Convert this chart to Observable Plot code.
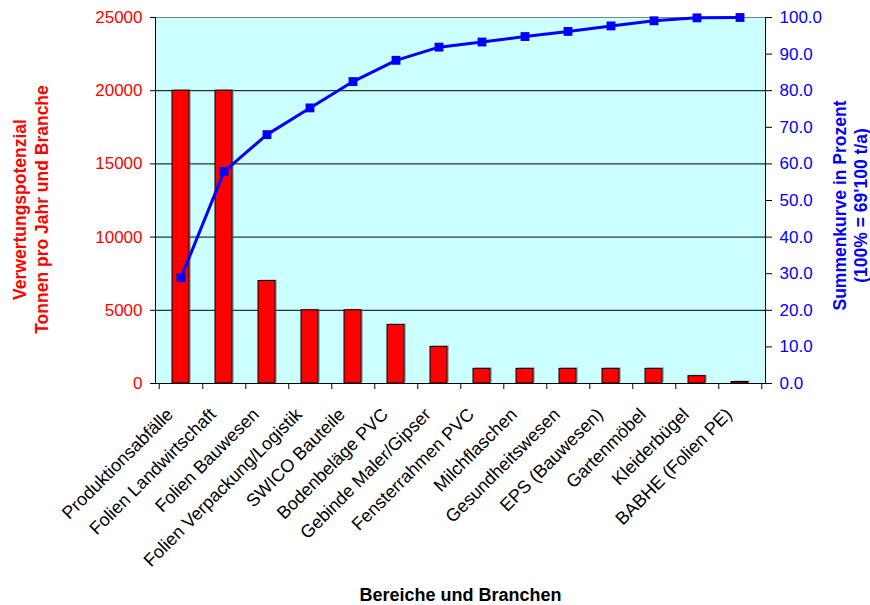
<!DOCTYPE html>
<html><head><meta charset="utf-8">
<script src="https://cdn.jsdelivr.net/npm/d3@7"></script>
<script src="https://cdn.jsdelivr.net/npm/@observablehq/plot@0.6"></script>
<style>body{margin:0;background:#fff}</style>
</head><body><div id="chart"></div>
<script>
const categories = ["Produktionsabfälle", "Folien Landwirtschaft", "Folien Bauwesen", "Folien Verpackung/Logistik", "SWICO Bauteile", "Bodenbeläge PVC", "Gebinde Maler/Gipser", "Fensterrahmen PVC", "Milchflaschen", "Gesundheitswesen", "EPS (Bauwesen)", "Gartenmöbel", "Kleiderbügel", "BABHE (Folien PE)"];
const tonnen = [20000, 20000, 7000, 5000, 5000, 4000, 2500, 1000, 1000, 1000, 1000, 1000, 500, 100];
const summeProzent = [28.9, 57.9, 68.0, 75.3, 82.5, 88.3, 91.9, 93.3, 94.8, 96.2, 97.7, 99.1, 99.9, 100.0];
const leftTicks = [0, 5000, 10000, 15000, 20000, 25000];
const gridTicks = [5000, 10000, 15000, 20000];
const rightTicks = [0, 10, 20, 30, 40, 50, 60, 70, 80, 90, 100];
const PCT = 250; // 100 % on the right axis = 25000 on the left axis

const data = categories.map((c, i) => ({kategorie: c, tonnen: tonnen[i], pct: summeProzent[i]}));

const W = 870, H = 605, mL = 155, mR = 105, mT = 17, mB = 222;
const step = (W - mL - mR) / categories.length;
const font = "'Liberation Sans', Arial, sans-serif";

const chart = Plot.plot({
  width: W, height: H,
  marginLeft: mL, marginRight: mR, marginTop: mT, marginBottom: mB,
  style: {fontFamily: font, fontSize: "17px", background: "#fff", overflow: "visible"},
  x: {domain: categories, paddingInner: 0.6, paddingOuter: 0.3, axis: null, label: null},
  y: {domain: [0, 25000], axis: null, label: null},
  marks: [
    Plot.frame({fill: "#CCFFFF", stroke: null}),
    Plot.gridY(gridTicks, {stroke: "#000", strokeOpacity: 1}),
    Plot.ruleY([25000], {stroke: "#808080"}),
    Plot.barY(data, {x: "kategorie", y: "tonnen", fill: "#808080", fillOpacity: 0.55, dx: 2, dy: -1}),
    Plot.barY(data, {x: "kategorie", y: "tonnen", fill: "#FF0000", stroke: "#000", strokeWidth: 1}),
    Plot.ruleY([0], {stroke: "#000"}),
    Plot.frame({anchor: "left", stroke: "#000"}),
    Plot.frame({anchor: "right", stroke: "#000"}),
    Plot.axisX({tickSize: 6, text: null, label: null, dx: step / 2, stroke: "#000"}),
    Plot.axisX([categories[0]], {tickSize: 6, text: null, label: null, dx: -step / 2, stroke: "#000"}),
    Plot.axisX({tickSize: 0, tickPadding: 28, tickRotate: -45, dx: -11, label: null, fontSize: 18, fill: "#000"}),
    Plot.axisY(leftTicks, {anchor: "left", tickSize: 5, tickPadding: 8, label: null, tickFormat: d => String(d), fill: "#FF0000", stroke: "#000", fontSize: 17}),
    Plot.axisY(rightTicks.map(p => p * PCT), {anchor: "right", tickSize: 6, tickPadding: 8, label: null, tickFormat: d => (d / PCT).toFixed(1), fill: "#0000FF", stroke: "#000", fontSize: 17}),
    Plot.line(data, {x: "kategorie", y: d => d.pct * PCT, stroke: "#0000FF", strokeWidth: 3}),
    Plot.dot(data, {x: "kategorie", y: d => d.pct * PCT, symbol: "square", fill: "#0000FF", r: 5}),
    Plot.text(["Verwertungspotenzial\nTonnen pro Jahr und Branche"], {text: d => d, frameAnchor: "left", rotate: -90, dx: -125.5, dy: 9, fill: "#FF0000", fontWeight: "bold", fontSize: 17.5, lineHeight: 1.23, lineAnchor: "middle", textAnchor: "middle"}),
    Plot.text(["Summenkurve in Prozent\n(100% = 69'100 t/a)"], {text: d => d, frameAnchor: "right", rotate: -90, dx: 84, dy: 5, fill: "#0000FF", fontWeight: "bold", fontSize: 17.5, lineHeight: 1.23, lineAnchor: "middle", textAnchor: "middle"}),
    Plot.text(["Bereiche und Branchen"], {text: d => d, frameAnchor: "bottom", dy: 211.6, fill: "#000", fontWeight: "bold", fontSize: 18, lineAnchor: "middle", textAnchor: "middle"})
  ]
});
document.getElementById("chart").append(chart);
</script>
</body></html>
